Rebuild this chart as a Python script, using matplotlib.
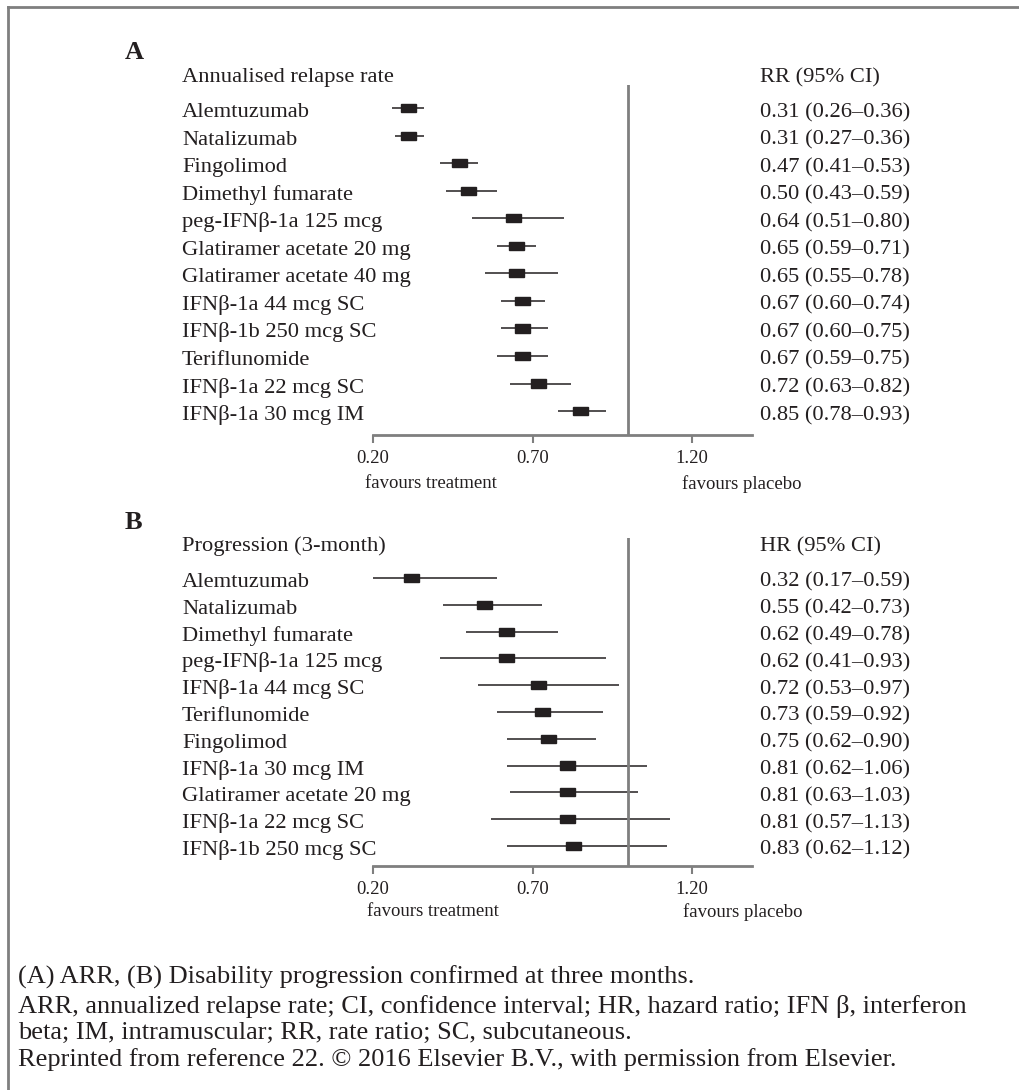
import numpy as np
import matplotlib
matplotlib.use("Agg")
import matplotlib.pyplot as plt
import matplotlib.transforms as mtransforms
from matplotlib.lines import Line2D

plt.rcParams['font.family'] = ['Liberation Serif', 'DejaVu Serif']

# panel A: annualised relapse rate
drugs_a = ["Alemtuzumab", "Natalizumab", "Fingolimod", "Dimethyl fumarate",
           "peg-IFNβ-1a 125 mcg", "Glatiramer acetate 20 mg", "Glatiramer acetate 40 mg",
           "IFNβ-1a 44 mcg SC", "IFNβ-1b 250 mcg SC", "Teriflunomide",
           "IFNβ-1a 22 mcg SC", "IFNβ-1a 30 mcg IM"]
rr_a = [0.31, 0.31, 0.47, 0.50, 0.64, 0.65, 0.65, 0.67, 0.67, 0.67, 0.72, 0.85]
lo_a = [0.26, 0.27, 0.41, 0.43, 0.51, 0.59, 0.55, 0.60, 0.60, 0.59, 0.63, 0.78]
hi_a = [0.36, 0.36, 0.53, 0.59, 0.80, 0.71, 0.78, 0.74, 0.75, 0.75, 0.82, 0.93]

# panel B: 3-month progression
drugs_b = ["Alemtuzumab", "Natalizumab", "Dimethyl fumarate", "peg-IFNβ-1a 125 mcg",
           "IFNβ-1a 44 mcg SC", "Teriflunomide", "Fingolimod", "IFNβ-1a 30 mcg IM",
           "Glatiramer acetate 20 mg", "IFNβ-1a 22 mcg SC", "IFNβ-1b 250 mcg SC"]
hr_b = [0.32, 0.55, 0.62, 0.62, 0.72, 0.73, 0.75, 0.81, 0.81, 0.81, 0.83]
lo_b = [0.17, 0.42, 0.49, 0.41, 0.53, 0.59, 0.62, 0.62, 0.63, 0.57, 0.62]
hi_b = [0.59, 0.73, 0.78, 0.93, 0.97, 0.92, 0.90, 1.06, 1.03, 1.13, 1.12]

ticks = [0.20, 0.70, 1.20]
tick_labels = ["0.20", "0.70", "1.20"]

W, H = 1019, 1090
fig = plt.figure(figsize=(W / 100, H / 100), dpi=100)

ink = "#231f20"
grey = "#7f7f7f"
fs = 16.2


def fx(px):
    return px / W


def fy(py):
    return 1 - py / H


def forest(top, bottom, nrows, ylim, letter, header, colhead, names, est, lo, hi,
           head_base, letter_base):
    ax = fig.add_axes([fx(373), fy(bottom), fx(752) - fx(373), fy(top) - fy(bottom)])
    ax.set_xlim(0.2, 1.388)
    ax.set_ylim(*ylim)
    y = np.arange(nrows)
    for i in range(nrows):
        ax.plot([lo[i], hi[i]], [y[i], y[i]], color=ink, lw=1.1, solid_capstyle='butt')
        ax.add_patch(plt.Rectangle((est[i] - 0.0235, y[i] - 0.15), 0.047, 0.30,
                                   color=ink, zorder=3))
    ax.axvline(1.0, color=grey, lw=2)
    for s in ['top', 'right', 'left']:
        ax.spines[s].set_visible(False)
    ax.spines['bottom'].set_color(grey)
    ax.spines['bottom'].set_linewidth(2)
    ax.set_yticks([])
    ax.set_xticks(ticks)
    ax.set_xticklabels(tick_labels, fontsize=13.4, color=ink)
    ax.tick_params(axis='x', color=grey, width=1.5, length=6, pad=5)

    # labels sit on a baseline a little below each row centre
    tr = mtransforms.blended_transform_factory(fig.transFigure, ax.transData)
    tr = mtransforms.offset_copy(tr, fig=fig, y=-9, units='dots')
    for i in range(nrows):
        ax.text(fx(182), y[i], names[i], transform=tr, fontsize=fs, color=ink,
                va='baseline', ha='left')
        ax.text(fx(760), y[i], f"{est[i]:.2f} ({lo[i]:.2f}–{hi[i]:.2f})", transform=tr,
                fontsize=fs, color=ink, va='baseline', ha='left')
    fig.text(fx(182), fy(head_base), header, fontsize=fs, color=ink, va='baseline')
    fig.text(fx(760), fy(head_base), colhead, fontsize=fs, color=ink, va='baseline')
    fig.text(fx(125), fy(letter_base), letter, fontsize=19, fontweight='bold',
             color=ink, va='baseline')
    return ax


forest(85, 435, len(drugs_a), (11.87, -0.84), "A", "Annualised relapse rate",
       "RR (95% CI)", drugs_a, rr_a, lo_a, hi_a, 82, 59)
fig.text(fx(431), fy(484), "favours treatment", fontsize=13.5, color=ink, ha='center', va='center')
fig.text(fx(742), fy(484), "favours placebo", fontsize=13.5, color=ink, ha='center', va='center')

forest(538, 866, len(drugs_b), (10.75, -1.49), "B", "Progression (3-month)",
       "HR (95% CI)", drugs_b, hr_b, lo_b, hi_b, 551, 529)
fig.text(fx(433), fy(912), "favours treatment", fontsize=13.5, color=ink, ha='center', va='center')
fig.text(fx(743), fy(912), "favours placebo", fontsize=13.5, color=ink, ha='center', va='center')

notes = ["(A) ARR, (B) Disability progression confirmed at three months.",
         "ARR, annualized relapse rate; CI, confidence interval; HR, hazard ratio; IFN β, interferon",
         "beta; IM, intramuscular; RR, rate ratio; SC, subcutaneous.",
         "Reprinted from reference 22. © 2016 Elsevier B.V., with permission from Elsevier."]
note_y = [977, 1006, 1033, 1060]
for t, yy in zip(notes, note_y):
    fig.text(fx(18), fy(yy), t, fontsize=19, color=ink, ha='left', va='center')

# frame: left and top edges only
fig.add_artist(Line2D([fx(8), fx(8)], [fy(7), 0], color=grey, lw=2))
fig.add_artist(Line2D([fx(8), 1], [fy(7), fy(7)], color=grey, lw=2))

fig.savefig("out.png", dpi=100)
